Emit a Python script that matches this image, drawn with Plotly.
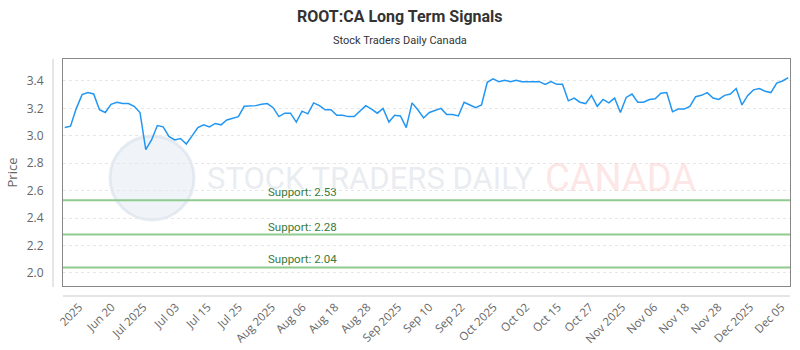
import plotly.graph_objects as go

prices = [3.06, 3.07, 3.20, 3.30, 3.315, 3.305, 3.19, 3.17, 3.23, 3.245,
          3.235, 3.235, 3.215, 3.17, 2.90, 2.97, 3.075, 3.065, 2.995, 2.97,
          2.98, 2.94, 3.00, 3.06, 3.08, 3.065, 3.09, 3.08, 3.115, 3.13,
          3.14, 3.215, 3.215, 3.22, 3.23, 3.235, 3.205, 3.14, 3.165, 3.165,
          3.10, 3.18, 3.16, 3.24, 3.22, 3.19, 3.19, 3.15, 3.15, 3.14,
          3.14, 3.18, 3.22, 3.195, 3.165, 3.20, 3.10, 3.15, 3.145, 3.06,
          3.24, 3.19, 3.13, 3.17, 3.185, 3.20, 3.155, 3.155, 3.145, 3.245,
          3.225, 3.205, 3.225, 3.39, 3.415, 3.395, 3.405, 3.395, 3.405, 3.395,
          3.395, 3.395, 3.395, 3.375, 3.395, 3.375, 3.375, 3.255, 3.275, 3.245,
          3.235, 3.295, 3.215, 3.265, 3.24, 3.275, 3.17, 3.28, 3.305, 3.245,
          3.245, 3.265, 3.27, 3.31, 3.315, 3.175, 3.195, 3.195, 3.215, 3.285,
          3.295, 3.315, 3.275, 3.265, 3.295, 3.305, 3.345, 3.225, 3.295, 3.335,
          3.345, 3.325, 3.315, 3.385, 3.40, 3.425]
x_idx = list(range(len(prices)))

tick_pos = [2.5, 8.1, 13.6, 19.2, 24.7, 30.1, 35.8, 41.1, 46.7, 52.3, 57.6,
            63.0, 68.5, 74.1, 79.7, 85.2, 90.7, 96.3, 101.8, 107.3, 112.9, 118.4, 123.8]
tick_text = ["2025", "Jun 20", "Jul 2025", "Jul 03", "Jul 15", "Jul 25", "Aug 2025",
             "Aug 06", "Aug 18", "Aug 28", "Sep 2025", "Sep 10", "Sep 22", "Oct 2025",
             "Oct 02", "Oct 15", "Oct 27", "Nov 2025", "Nov 06", "Nov 18", "Nov 28",
             "Dec 2025", "Dec 05"]

support_levels = [2.53, 2.28, 2.04]
support_labels = ["Support: 2.53", "Support: 2.28", "Support: 2.04"]

PW, PH = 727.0, 227.0

fig = go.Figure()
fig.add_trace(go.Scatter(x=x_idx, y=prices, mode="lines",
                         line=dict(color="#2196f3", width=1.5),
                         hoverinfo="y", showlegend=False))

shapes = []
annotations = []
for lvl, lab in zip(support_levels, support_labels):
    shapes.append(dict(type="line", xref="paper", x0=0, x1=1, yref="y", y0=lvl, y1=lvl,
                       line=dict(color="#8fca8f", width=2), layer="above"))
    annotations.append(dict(xref="x", x=34.7, yref="y", y=lvl, text=lab, showarrow=False,
                            xanchor="left", yanchor="bottom", yshift=-1,
                            font=dict(family="Roboto", size=11.5, color="#3a7a3a")))

# watermark
shapes.append(dict(type="circle", xref="paper", yref="paper",
                   x0=(110 - 63) / PW, x1=(194 - 63) / PW,
                   y0=(286 - 220) / PH, y1=(286 - 136) / PH,
                   fillcolor="rgba(205,218,236,0.3)", line=dict(color="rgba(205,215,230,0.45)", width=3),
                   layer="below"))
annotations.append(dict(xref="paper", yref="paper", x=(205 - 63) / PW, y=(286 - 178) / PH,
                        text="STOCK TRADERS DAILY", showarrow=False, xanchor="left", yanchor="middle",
                        font=dict(family="Roboto", size=31, color="rgba(215,220,228,0.55)")))
annotations.append(dict(xref="paper", yref="paper", x=(543 - 63) / PW, y=(286 - 178) / PH,
                        text="CANADA", showarrow=False, xanchor="left", yanchor="middle",
                        font=dict(family="Roboto", size=38, color="rgba(250,200,200,0.45)")))

# title & subtitle
annotations.append(dict(xref="paper", yref="paper", x=(400 - 63) / PW, y=(286 - 16) / PH,
                        text="<b>ROOT:CA Long Term Signals</b>", showarrow=False,
                        xanchor="center", yanchor="middle",
                        font=dict(family="Roboto", size=16, color="#333333")))
annotations.append(dict(xref="paper", yref="paper", x=(400 - 63) / PW, y=(286 - 40) / PH,
                        text="Stock Traders Daily Canada", showarrow=False,
                        xanchor="center", yanchor="middle",
                        font=dict(family="Roboto", size=11, color="#333333")))

# outer axis lines
shapes.append(dict(type="line", xref="paper", yref="paper", x0=-10 / PW, x1=-10 / PW,
                   y0=-1 / PH, y1=1, line=dict(color="#cccccc", width=1)))
shapes.append(dict(type="line", xref="paper", yref="paper", x0=0, x1=1,
                   y0=-10 / PH, y1=-10 / PH, line=dict(color="#cccccc", width=1)))

fig.update_layout(
    width=800, height=350,
    margin=dict(l=63, r=10, t=59, b=64),
    paper_bgcolor="white", plot_bgcolor="white",
    xaxis=dict(range=[-0.3, 125.3], tickmode="array", tickvals=tick_pos, ticktext=tick_text,
               tickangle=-45, showgrid=False, zeroline=False, automargin=False,
               showline=True, mirror=True, linecolor="#888888", linewidth=1,
               ticklabelstandoff=9,
               tickfont=dict(family="Open Sans", size=11.5, color="#666666"), ticks=""),
    yaxis=dict(range=[1.905, 3.56], tickmode="array", tickvals=[2.0, 2.2, 2.4, 2.6, 2.8, 3.0, 3.2, 3.4],
               ticktext=["2.0", "2.2", "2.4", "2.6", "2.8", "3.0", "3.2", "3.4"],
               showgrid=True, gridcolor="#e6e6e6", griddash="dot", zeroline=False, automargin=False,
               showline=True, mirror=True, linecolor="#888888", linewidth=1,
               ticklabelstandoff=16,
               title=dict(text="Price", font=dict(family="Open Sans", size=13, color="#666666"), standoff=6),
               tickfont=dict(family="Open Sans", size=12, color="#666666")),
    shapes=shapes, annotations=annotations,
)

fig.write_html("out.html")
